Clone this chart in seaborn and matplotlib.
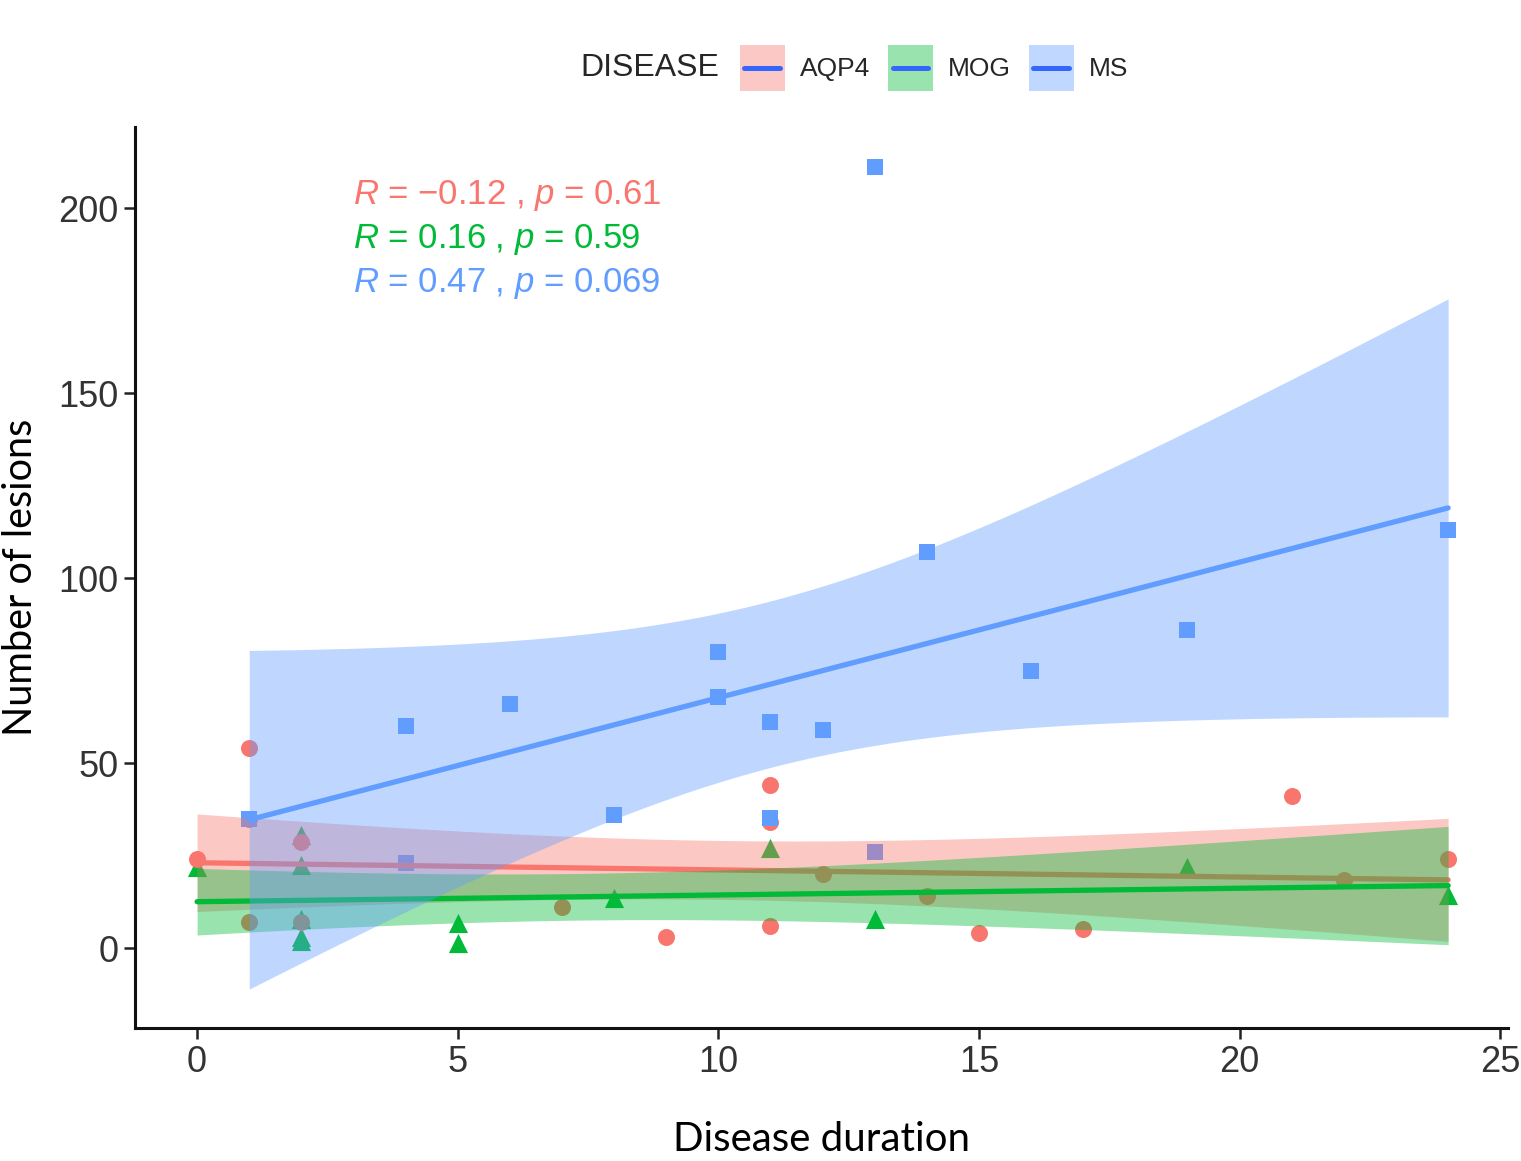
import math
import numpy as np
import pandas as pd
import seaborn as sns
import matplotlib.pyplot as plt
from matplotlib.colors import to_rgb
from matplotlib.patches import Patch, Rectangle
from matplotlib.lines import Line2D

# data
aqp4_x = [0, 1, 1, 1, 2, 2, 7, 9, 11, 11, 11, 12, 14, 15, 17, 21, 22, 24]
aqp4_y = [24, 54, 35, 7, 28.7, 7, 11, 3, 44, 34, 6, 20, 14, 4, 5.3, 41, 18.5, 24]
mog_x = [0, 2, 2, 2, 2, 2, 5, 5, 8, 11, 13, 19, 24]
mog_y = [22, 30.5, 22.4, 8, 3, 1.8, 6.7, 1.4, 13.5, 27, 7.8, 22, 14.3]
ms_x = [1, 4, 4, 6, 8, 10, 10, 11, 11, 12, 13, 13, 14, 16, 19, 24]
ms_y = [35, 60, 23, 66, 36, 80, 68, 61, 35.3, 59, 211, 26, 107, 75, 86, 113]

groups = ["AQP4", "MOG", "MS"]
colors = {"AQP4": "#F8766D", "MOG": "#00BA38", "MS": "#619CFF"}
markers = {"AQP4": "o", "MOG": "^", "MS": "s"}
sizes = {"AQP4": 150, "MOG": 190, "MS": 130}
stats_txt = {"AQP4": "$R$ = \u22120.12 , $p$ = 0.61",
             "MOG": "$R$ = 0.16 , $p$ = 0.59",
             "MS": "$R$ = 0.47 , $p$ = 0.069"}

df = pd.concat([
    pd.DataFrame({"duration": aqp4_x, "lesions": aqp4_y, "DISEASE": "AQP4"}),
    pd.DataFrame({"duration": mog_x, "lesions": mog_y, "DISEASE": "MOG"}),
    pd.DataFrame({"duration": ms_x, "lesions": ms_y, "DISEASE": "MS"}),
], ignore_index=True)


def t_crit(dof, q=0.975):
    # student t quantile by numeric integration (no scipy needed)
    xs = np.linspace(0, 12, 240001)
    c = math.gamma((dof + 1) / 2) / (math.sqrt(dof * math.pi) * math.gamma(dof / 2))
    pdf = c * (1 + xs ** 2 / dof) ** (-(dof + 1) / 2)
    cdf = 0.5 + np.concatenate([[0], np.cumsum((pdf[1:] + pdf[:-1]) / 2 * (xs[1] - xs[0]))])
    return xs[np.searchsorted(cdf, q)]


class KeyHandler:
    # ggplot-like legend key: filled square with a short blue line across
    def legend_artist(self, legend, orig_handle, fontsize, handlebox):
        x0, y0 = handlebox.xdescent, handlebox.ydescent
        w, h = handlebox.width, handlebox.height
        tr = handlebox.get_transform()
        rect = Rectangle((-x0, -y0), w, h, facecolor=orig_handle.get_facecolor(),
                         linewidth=0, transform=tr)
        yc = -y0 + h / 2
        line = Line2D([-x0 + 0.1 * w, -x0 + 0.9 * w], [yc, yc], color="#3366FF",
                      linewidth=3.6, transform=tr)
        handlebox.add_artist(rect)
        handlebox.add_artist(line)
        return rect


sns.set_theme(style="ticks")
plt.rcParams["font.family"] = ["Liberation Sans", "DejaVu Sans"]
plt.rcParams["mathtext.fontset"] = "custom"
plt.rcParams["mathtext.it"] = "Liberation Sans:italic"
plt.rcParams["mathtext.rm"] = "Liberation Sans"

fig = plt.figure(figsize=(15.21, 11.61), dpi=100)
ax = fig.add_axes([0.0888, 0.1145, 0.9027, 0.7761])

# points first (ggplot draws geom_point before geom_smooth)
for g in ["MOG", "AQP4", "MS"]:
    sub = df[df["DISEASE"] == g]
    sns.scatterplot(data=sub, x="duration", y="lesions", color=colors[g], marker=markers[g],
                    s=sizes[g], linewidth=0, alpha=1, legend=False, ax=ax, zorder=2)

# linear fit + 95% confidence band per group
for i, g in enumerate(groups):
    sub = df[df["DISEASE"] == g]
    x = sub["duration"].to_numpy(float)
    y = sub["lesions"].to_numpy(float)
    n = len(x)
    b, a = np.polyfit(x, y, 1)
    xg = np.linspace(x.min(), x.max(), 120)
    yhat = a + b * xg
    resid = y - (a + b * x)
    s = np.sqrt(np.sum(resid ** 2) / (n - 2))
    se = s * np.sqrt(1 / n + (xg - x.mean()) ** 2 / np.sum((x - x.mean()) ** 2))
    tc = t_crit(n - 2)
    ax.fill_between(xg, yhat - tc * se, yhat + tc * se, color=colors[g], alpha=0.4,
                    linewidth=0, zorder=3 + 2 * i)
    sns.lineplot(x=xg, y=yhat, color=colors[g], linewidth=3.8, ax=ax, zorder=4 + 2 * i)

for i, g in enumerate(groups):
    ax.text(3, 203.5 - 11.9 * i, stats_txt[g], color=colors[g], fontsize=25,
            ha="left", va="center", zorder=10)

ax.set_xlim(-1.19, 25.15)
ax.set_ylim(-21.6, 221.9)
ax.set_xticks([0, 5, 10, 15, 20, 25])
ax.set_yticks([0, 50, 100, 150, 200])
ax.tick_params(axis="both", labelsize=26, colors="#333333", length=8, width=1.8, pad=4)
ax.tick_params(axis="both", color="#222222")
for side in ["left", "bottom"]:
    ax.spines[side].set_linewidth(2.2)
    ax.spines[side].set_color("#111111")
sns.despine(ax=ax)

ax.set_xlabel("Disease duration", fontsize=29, family=["Lato", "DejaVu Sans"], labelpad=30,
              color="black")
ax.set_ylabel("Number of lesions", fontsize=28.5, family=["Lato", "DejaVu Sans"], labelpad=14,
              color="black")

# legend on top: title on the left, keys = band fill + (blue) line
fig.text(580 / 1521, 1 - 68 / 1161, "DISEASE", fontsize=23, ha="left", va="center")
handles = [Patch(facecolor=tuple(0.4 * np.array(to_rgb(colors[g])) + 0.6)) for g in groups]
fig.legend(handles, groups, handler_map={h: KeyHandler() for h in handles},
           loc="center left", bbox_to_anchor=(740 / 1521, 1 - 68 / 1161), ncol=3,
           frameon=False, fontsize=19, handlelength=1.7, handleheight=2.25,
           handletextpad=0.57, columnspacing=0.68, borderpad=0, borderaxespad=0)

fig.savefig("out.png", dpi=100)
